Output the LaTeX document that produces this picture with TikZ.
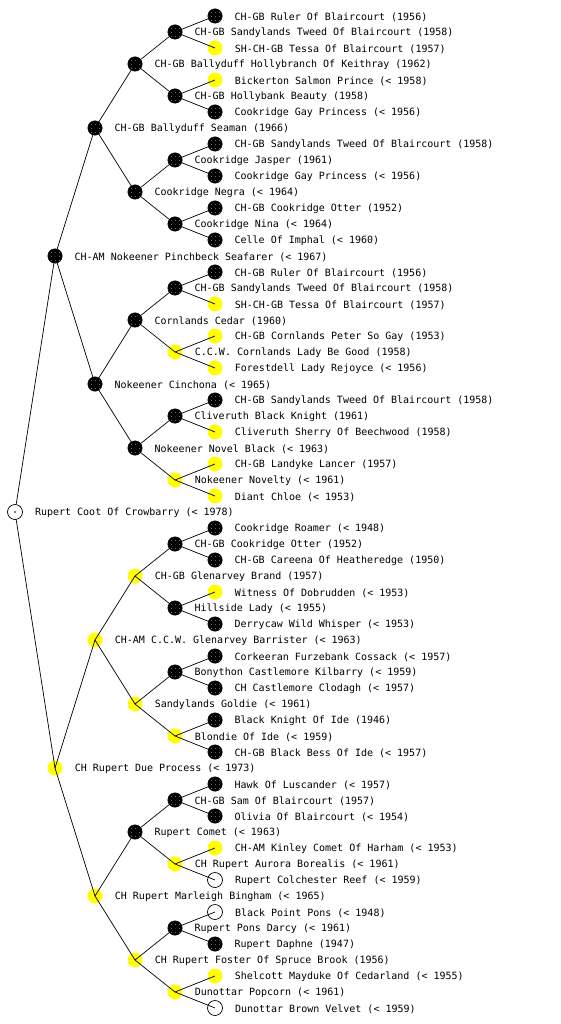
\documentclass[tikz,border=0pt]{standalone}
\usepackage{fontspec}
\setmonofont{DejaVu Sans Mono}
\usepackage{tikz}
\usetikzlibrary{patterns.meta}
\definecolor{pedyellow}{HTML}{FFFF00}

\begin{document}
\begin{tikzpicture}[x=1pt, y=-1pt,
  dotblack/.style={circle, draw=black, fill=black, minimum size=14.5pt, inner sep=0pt, postaction={pattern={Dots[distance=4pt, radius=0.45pt]}, pattern color=white}},
  dotyellow/.style={circle, fill=pedyellow, minimum size=15pt, inner sep=0pt, postaction={pattern={Dots[distance=4pt, radius=0.45pt]}, pattern color=white!55!pedyellow}},
  hollow/.style={circle, draw=black, line width=0.7pt, minimum size=15pt, inner sep=0pt},
  pname/.style={font=\ttfamily\fontsize{10}{12}\selectfont, inner sep=0pt, yshift=-1pt},
  link/.style={line width=0.7pt, black},
  label distance=12pt
]
\useasboundingbox (0,0) rectangle (560,1024);

% --- generation 5 ----------------------------------------------------------
\node[dotblack,  label={[pname]right:CH-GB Ruler Of Blaircourt (1956)}]            (sssss) at (215, 16) {};
\node[dotyellow, label={[pname]right:SH-CH-GB Tessa Of Blaircourt (1957)}]         (ssssd) at (215, 48) {};
\node[dotyellow, label={[pname]right:Bickerton Salmon Prince (< 1958)}]            (sssds) at (215, 80) {};
\node[dotblack,  label={[pname]right:Cookridge Gay Princess (< 1956)}]             (sssdd) at (215,112) {};
\node[dotblack,  label={[pname]right:CH-GB Sandylands Tweed Of Blaircourt (1958)}] (ssdss) at (215,144) {};
\node[dotblack,  label={[pname]right:Cookridge Gay Princess (< 1956)}]             (ssdsd) at (215,176) {};
\node[dotblack,  label={[pname]right:CH-GB Cookridge Otter (1952)}]                (ssdds) at (215,208) {};
\node[dotblack,  label={[pname]right:Celle Of Imphal (< 1960)}]                    (ssddd) at (215,240) {};
\node[dotblack,  label={[pname]right:CH-GB Ruler Of Blaircourt (1956)}]            (sdsss) at (215,272) {};
\node[dotyellow, label={[pname]right:SH-CH-GB Tessa Of Blaircourt (1957)}]         (sdssd) at (215,304) {};
\node[dotyellow, label={[pname]right:CH-GB Cornlands Peter So Gay (1953)}]         (sdsds) at (215,336) {};
\node[dotyellow, label={[pname]right:Forestdell Lady Rejoyce (< 1956)}]            (sdsdd) at (215,368) {};
\node[dotblack,  label={[pname]right:CH-GB Sandylands Tweed Of Blaircourt (1958)}] (sddss) at (215,400) {};
\node[dotyellow, label={[pname]right:Cliveruth Sherry Of Beechwood (1958)}]        (sddsd) at (215,432) {};
\node[dotyellow, label={[pname]right:CH-GB Landyke Lancer (1957)}]                 (sddds) at (215,464) {};
\node[dotyellow, label={[pname]right:Diant Chloe (< 1953)}]                        (sdddd) at (215,496) {};
\node[dotblack,  label={[pname]right:Cookridge Roamer (< 1948)}]                   (dssss) at (215,528) {};
\node[dotblack,  label={[pname]right:CH-GB Careena Of Heatheredge (1950)}]         (dsssd) at (215,560) {};
\node[dotyellow, label={[pname]right:Witness Of Dobrudden (< 1953)}]               (dssds) at (215,592) {};
\node[dotblack,  label={[pname]right:Derrycaw Wild Whisper (< 1953)}]              (dssdd) at (215,624) {};
\node[dotblack,  label={[pname]right:Corkeeran Furzebank Cossack (< 1957)}]        (dsdss) at (215,656) {};
\node[dotblack,  label={[pname]right:CH Castlemore Clodagh (< 1957)}]              (dsdsd) at (215,688) {};
\node[dotblack,  label={[pname]right:Black Knight Of Ide (1946)}]                  (dsdds) at (215,720) {};
\node[dotblack,  label={[pname]right:CH-GB Black Bess Of Ide (< 1957)}]            (dsddd) at (215,752) {};
\node[dotblack,  label={[pname]right:Hawk Of Luscander (< 1957)}]                  (ddsss) at (215,784) {};
\node[dotblack,  label={[pname]right:Olivia Of Blaircourt (< 1954)}]               (ddssd) at (215,816) {};
\node[dotyellow, label={[pname]right:CH-AM Kinley Comet Of Harham (< 1953)}]       (ddsds) at (215,848) {};
\node[hollow,    label={[pname]right:Rupert Colchester Reef (< 1959)}]             (ddsdd) at (215,880) {};
\node[hollow,    label={[pname]right:Black Point Pons (< 1948)}]                   (dddss) at (215,912) {};
\node[dotblack,  label={[pname]right:Rupert Daphne (1947)}]                        (dddsd) at (215,944) {};
\node[dotyellow, label={[pname]right:Shelcott Mayduke Of Cedarland (< 1955)}]      (dddds) at (215,976) {};
\node[hollow,    label={[pname]right:Dunottar Brown Velvet (< 1959)}]              (ddddd) at (215,1008) {};

% --- generation 4 ----------------------------------------------------------
\node[dotblack,  label={[pname]right:CH-GB Sandylands Tweed Of Blaircourt (1958)}] (ssss) at (175, 32) {};
\node[dotblack,  label={[pname]right:CH-GB Hollybank Beauty (1958)}]               (sssd) at (175, 96) {};
\node[dotblack,  label={[pname]right:Cookridge Jasper (1961)}]                     (ssds) at (175,160) {};
\node[dotblack,  label={[pname]right:Cookridge Nina (< 1964)}]                     (ssdd) at (175,224) {};
\node[dotblack,  label={[pname]right:CH-GB Sandylands Tweed Of Blaircourt (1958)}] (sdss) at (175,288) {};
\node[dotyellow, label={[pname]right:C.C.W. Cornlands Lady Be Good (1958)}]        (sdsd) at (175,352) {};
\node[dotblack,  label={[pname]right:Cliveruth Black Knight (1961)}]               (sdds) at (175,416) {};
\node[dotyellow, label={[pname]right:Nokeener Novelty (< 1961)}]                   (sddd) at (175,480) {};
\node[dotblack,  label={[pname]right:CH-GB Cookridge Otter (1952)}]                (dsss) at (175,544) {};
\node[dotblack,  label={[pname]right:Hillside Lady (< 1955)}]                      (dssd) at (175,608) {};
\node[dotblack,  label={[pname]right:Bonython Castlemore Kilbarry (< 1959)}]       (dsds) at (175,672) {};
\node[dotyellow, label={[pname]right:Blondie Of Ide (< 1959)}]                     (dsdd) at (175,736) {};
\node[dotblack,  label={[pname]right:CH-GB Sam Of Blaircourt (1957)}]              (ddss) at (175,800) {};
\node[dotyellow, label={[pname]right:CH Rupert Aurora Borealis (< 1961)}]          (ddsd) at (175,864) {};
\node[dotblack,  label={[pname]right:Rupert Pons Darcy (< 1961)}]                  (ddds) at (175,928) {};
\node[dotyellow, label={[pname]right:Dunottar Popcorn (< 1961)}]                   (dddd) at (175,992) {};

% --- generation 3 ----------------------------------------------------------
\node[dotblack,  label={[pname]right:CH-GB Ballyduff Hollybranch Of Keithray (1962)}] (sss) at (135, 64) {};
\node[dotblack,  label={[pname]right:Cookridge Negra (< 1964)}]                    (ssd) at (135,192) {};
\node[dotblack,  label={[pname]right:Cornlands Cedar (1960)}]                      (sds) at (135,320) {};
\node[dotblack,  label={[pname]right:Nokeener Novel Black (< 1963)}]               (sdd) at (135,448) {};
\node[dotyellow, label={[pname]right:CH-GB Glenarvey Brand (1957)}]                (dss) at (135,576) {};
\node[dotyellow, label={[pname]right:Sandylands Goldie (< 1961)}]                  (dsd) at (135,704) {};
\node[dotblack,  label={[pname]right:Rupert Comet (< 1963)}]                       (dds) at (135,832) {};
\node[dotyellow, label={[pname]right:CH Rupert Foster Of Spruce Brook (1956)}]     (ddd) at (135,960) {};

% --- generations 2, 1 and the dog ----------------------------------------
\node[dotblack,  label={[pname]right:CH-GB Ballyduff Seaman (1966)}]               (ss) at (95,128) {};
\node[dotblack,  label={[pname]right:Nokeener Cinchona (< 1965)}]                  (sd) at (95,384) {};
\node[dotyellow, label={[pname]right:CH-AM C.C.W. Glenarvey Barrister (< 1963)}]   (ds) at (95,640) {};
\node[dotyellow, label={[pname]right:CH Rupert Marleigh Bingham (< 1965)}]         (dd) at (95,896) {};

\node[dotblack,  label={[pname]right:CH-AM Nokeener Pinchbeck Seafarer (< 1967)}]  (s) at (55,256) {};
\node[dotyellow, label={[pname]right:CH Rupert Due Process (< 1973)}]              (d) at (55,768) {};

\node[hollow,    label={[pname]right:Rupert Coot Of Crowbarry (< 1978)}]           (pup) at (15,512) {};
\fill (pup.center) circle (0.8);

% --- sire above, dam below -------------------------------------------------
\draw[link] (pup) -- (s.center) (pup) -- (d.center);

\draw[link] (s.center) -- (ss.center) (s.center) -- (sd.center);
\draw[link] (d.center) -- (ds.center) (d.center) -- (dd.center);

\draw[link] (ss.center) -- (sss.center) (ss.center) -- (ssd.center);
\draw[link] (sd.center) -- (sds.center) (sd.center) -- (sdd.center);
\draw[link] (ds.center) -- (dss.center) (ds.center) -- (dsd.center);
\draw[link] (dd.center) -- (dds.center) (dd.center) -- (ddd.center);

\draw[link] (sss.center) -- (ssss.center) (sss.center) -- (sssd.center);
\draw[link] (ssd.center) -- (ssds.center) (ssd.center) -- (ssdd.center);
\draw[link] (sds.center) -- (sdss.center) (sds.center) -- (sdsd.center);
\draw[link] (sdd.center) -- (sdds.center) (sdd.center) -- (sddd.center);
\draw[link] (dss.center) -- (dsss.center) (dss.center) -- (dssd.center);
\draw[link] (dsd.center) -- (dsds.center) (dsd.center) -- (dsdd.center);
\draw[link] (dds.center) -- (ddss.center) (dds.center) -- (ddsd.center);
\draw[link] (ddd.center) -- (ddds.center) (ddd.center) -- (dddd.center);

\draw[link] (ssss.center) -- (sssss.center) (ssss.center) -- (ssssd.center);
\draw[link] (sssd.center) -- (sssds.center) (sssd.center) -- (sssdd.center);
\draw[link] (ssds.center) -- (ssdss.center) (ssds.center) -- (ssdsd.center);
\draw[link] (ssdd.center) -- (ssdds.center) (ssdd.center) -- (ssddd.center);
\draw[link] (sdss.center) -- (sdsss.center) (sdss.center) -- (sdssd.center);
\draw[link] (sdsd.center) -- (sdsds.center) (sdsd.center) -- (sdsdd.center);
\draw[link] (sdds.center) -- (sddss.center) (sdds.center) -- (sddsd.center);
\draw[link] (sddd.center) -- (sddds.center) (sddd.center) -- (sdddd.center);
\draw[link] (dsss.center) -- (dssss.center) (dsss.center) -- (dsssd.center);
\draw[link] (dssd.center) -- (dssds.center) (dssd.center) -- (dssdd.center);
\draw[link] (dsds.center) -- (dsdss.center) (dsds.center) -- (dsdsd.center);
\draw[link] (dsdd.center) -- (dsdds.center) (dsdd.center) -- (dsddd.center);
\draw[link] (ddss.center) -- (ddsss.center) (ddss.center) -- (ddssd.center);
\draw[link] (ddsd.center) -- (ddsds.center) (ddsd.center) -- (ddsdd.center);
\draw[link] (ddds.center) -- (dddss.center) (ddds.center) -- (dddsd.center);
\draw[link] (dddd.center) -- (dddds.center) (dddd.center) -- (ddddd.center);

\end{tikzpicture}
\end{document}
